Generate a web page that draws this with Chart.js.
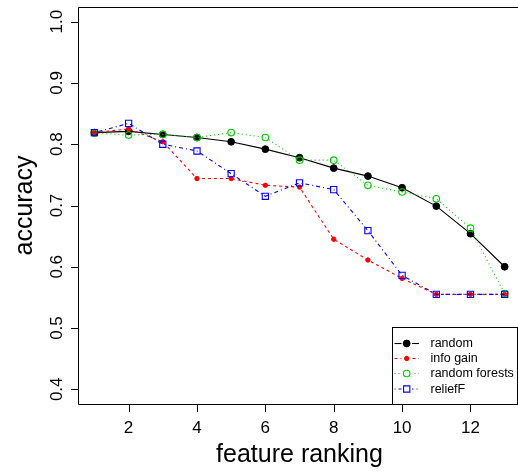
<!DOCTYPE html>
<html>
<head>
<meta charset="utf-8">
<script src="https://cdn.jsdelivr.net/npm/chart.js@4/dist/chart.umd.min.js"></script>
<style>
  html, body { margin: 0; padding: 0; background: #fff; overflow: hidden; width: 518px; height: 472px; }
  canvas { display: block; }
</style>
</head>
<body>
<canvas id="c" width="518" height="472"></canvas>
<script>
// Number of top-ranked features kept (x axis)
const rankings = [1, 2, 3, 4, 5, 6, 7, 8, 9, 10, 11, 12, 13];

// Classification accuracy for each feature-ranking method
const randomAcc       = [0.819, 0.821, 0.816, 0.811, 0.804, 0.792, 0.778, 0.761, 0.748, 0.729, 0.699, 0.654, 0.600];
const infoGainAcc     = [0.819, 0.825, 0.804, 0.744, 0.744, 0.733, 0.730, 0.645, 0.611, 0.581, 0.555, 0.555, 0.555];
const randomForestAcc = [0.818, 0.815, 0.816, 0.811, 0.819, 0.811, 0.774, 0.774, 0.733, 0.722, 0.711, 0.663, 0.556];
const reliefFAcc      = [0.819, 0.834, 0.800, 0.789, 0.752, 0.715, 0.737, 0.726, 0.659, 0.586, 0.555, 0.555, 0.555];

const seriesNames = ['random', 'info gain', 'random forests', 'reliefF'];

// Axis ticks and labels
const xTicks = [2, 4, 6, 8, 10, 12];
const xTickLabels = ['2', '4', '6', '8', '10', '12'];
const yTicks = [0.4, 0.5, 0.6, 0.7, 0.8, 0.9, 1.0];
const yTickLabels = ['0.4', '0.5', '0.6', '0.7', '0.8', '0.9', '1.0'];
const xTitle = 'feature ranking';
const yTitle = 'accuracy';

const FONT = '"Liberation Sans", Arial, Helvetica, sans-serif';

const toPoints = arr => arr.map((v, i) => ({ x: rankings[i], y: v }));

const datasets = [
  { label: seriesNames[0], data: toPoints(randomAcc), borderColor: '#000000', backgroundColor: '#000000',
    borderWidth: 1.1, borderDash: [], pointStyle: 'circle', pointRadius: 3.4, pointBorderWidth: 1, order: 4 },
  { label: seriesNames[1], data: toPoints(infoGainAcc), borderColor: '#ff0000', backgroundColor: '#ff0000',
    borderWidth: 1.1, borderDash: [3, 3], pointStyle: 'circle', pointRadius: 2.2, pointBorderWidth: 1, order: 3 },
  { label: seriesNames[2], data: toPoints(randomForestAcc), borderColor: '#00cc00', backgroundColor: 'rgba(0,0,0,0)',
    borderWidth: 1.1, borderDash: [1, 3], pointStyle: 'circle', pointRadius: 3.3, pointBorderWidth: 1.1, order: 2 },
  { label: seriesNames[3], data: toPoints(reliefFAcc), borderColor: '#0000ff', backgroundColor: 'rgba(0,0,0,0)',
    borderWidth: 1.1, borderDash: [1, 3, 4, 3], pointStyle: 'rect', pointRadius: 4.4, pointBorderWidth: 1.1, order: 1 }
];

// Box (its right side lies just past the canvas), tick marks, tick labels, titles and legend
const framePlugin = {
  id: 'frame',
  afterDraw(chart) {
    const { ctx, chartArea: a, scales: { x, y } } = chart;
    const W = chart.width;
    ctx.save();
    ctx.strokeStyle = '#000';
    ctx.lineWidth = 1;
    ctx.setLineDash([]);
    ctx.beginPath();
    ctx.moveTo(W + 2, a.top + 0.5);
    ctx.lineTo(a.left + 0.5, a.top + 0.5);
    ctx.lineTo(a.left + 0.5, a.bottom + 0.5);
    ctx.lineTo(W + 2, a.bottom + 0.5);
    ctx.stroke();

    ctx.beginPath();
    xTicks.forEach(v => {
      const px = Math.round(x.getPixelForValue(v)) + 0.5;
      ctx.moveTo(px, a.bottom + 0.5);
      ctx.lineTo(px, a.bottom + 8);
    });
    yTicks.forEach(v => {
      const py = Math.round(y.getPixelForValue(v)) + 0.5;
      ctx.moveTo(a.left + 0.5, py);
      ctx.lineTo(a.left - 7, py);
    });
    ctx.stroke();

    ctx.fillStyle = '#000';
    ctx.font = '17px ' + FONT;
    ctx.textAlign = 'center';
    ctx.textBaseline = 'alphabetic';
    xTicks.forEach((v, i) => {
      ctx.fillText(xTickLabels[i], x.getPixelForValue(v), 433);
    });
    yTicks.forEach((v, i) => {
      ctx.save();
      ctx.translate(61.5, y.getPixelForValue(v));
      ctx.rotate(-Math.PI / 2);
      ctx.fillText(yTickLabels[i], 0, 0);
      ctx.restore();
    });

    ctx.font = '25px ' + FONT;
    ctx.fillText(xTitle, 299.5, 462);
    ctx.save();
    ctx.translate(31.5, (a.top + a.bottom) / 2);
    ctx.rotate(-Math.PI / 2);
    ctx.fillText(yTitle, 0, 0);
    ctx.restore();

    // legend in the bottom-right corner
    const lx = 392.5, ly = 327.5, rx = 517.5;
    ctx.fillStyle = '#fff';
    ctx.fillRect(lx, ly, rx - lx, a.bottom - ly);
    ctx.strokeStyle = '#000';
    ctx.strokeRect(lx, ly, rx - lx, a.bottom + 0.5 - ly);
    ctx.font = '12.5px ' + FONT;
    ctx.textAlign = 'left';
    ctx.textBaseline = 'middle';
    const rowY = [343.5, 358.5, 373.5, 389];
    chart.data.datasets.forEach((ds, i) => {
      const yy = rowY[i];
      ctx.strokeStyle = ds.borderColor;
      ctx.lineWidth = ds.borderWidth;
      ctx.setLineDash(ds.borderDash);
      ctx.beginPath();
      ctx.moveTo(394.5, yy);
      ctx.lineTo(419, yy);
      ctx.stroke();
      ctx.setLineDash([]);
      ctx.fillStyle = '#fff';
      ctx.fillRect(401.5, yy - 4.5, 10.5, 9);
      ctx.fillStyle = ds.backgroundColor;
      ctx.strokeStyle = ds.borderColor;
      ctx.lineWidth = ds.pointBorderWidth;
      ctx.beginPath();
      if (ds.pointStyle === 'rect') {
        const s = Math.SQRT1_2 * ds.pointRadius;
        ctx.rect(406.7 - s, yy - s, 2 * s, 2 * s);
      } else {
        ctx.arc(406.7, yy, ds.pointRadius, 0, Math.PI * 2);
      }
      ctx.fill();
      ctx.stroke();
      ctx.fillStyle = '#000';
      ctx.fillText(ds.label, 430.5, yy + 0.5);
    });
    ctx.restore();
  }
};

new Chart(document.getElementById('c'), {
  type: 'line',
  data: { datasets },
  options: {
    responsive: false,
    animation: false,
    devicePixelRatio: 1,
    layout: { autoPadding: false, padding: { left: 78, top: 7, right: 0, bottom: 68 } },
    plugins: { legend: { display: false }, tooltip: { enabled: false } },
    elements: { line: { tension: 0, fill: false } },
    scales: {
      // the x range continues slightly past the right edge of the canvas
      x: { type: 'linear', min: 0.52, max: 13.39, display: false },
      y: { type: 'linear', min: 0.376, max: 1.024, display: false }
    }
  },
  plugins: [framePlugin]
});
</script>
</body>
</html>
